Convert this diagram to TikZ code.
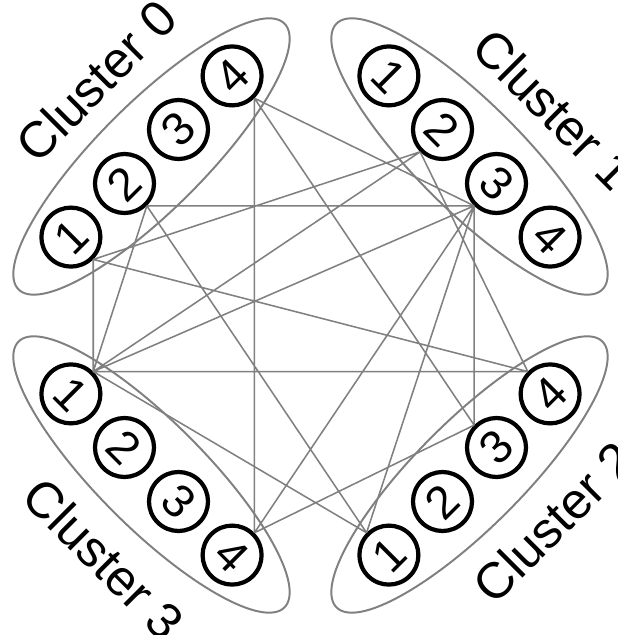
\documentclass[tikz,border=0pt]{standalone}
\usepackage{fontspec}
\setmainfont{Liberation Sans}
\usepackage{tikz}

\begin{document}
\begin{tikzpicture}[
    member/.style={circle, draw, line width=3pt, minimum size=1.475cm, inner sep=0pt, font=\fontsize{33}{40}\selectfont},
    group/.style={draw=gray, line width=1.4pt},
    link/.style={draw=gray, line width=1.1pt},
    title/.style={font=\fontsize{36}{43}\selectfont}]
    \useasboundingbox (-7.7625,-7.9875) rectangle (7.6875,7.8875);

    % cluster outlines
    \draw[group, rotate around={45:(-3.975,3.975)}] (-3.975,3.975) ellipse (4.7 and 1.33);
    \draw[group, rotate around={-45:(3.975,3.975)}] (3.975,3.975) ellipse (4.7 and 1.33);
    \draw[group, rotate around={45:(3.975,-3.975)}] (3.975,-3.975) ellipse (4.7 and 1.33);
    \draw[group, rotate around={-45:(-3.975,-3.975)}] (-3.975,-3.975) ellipse (4.7 and 1.33);

    % cluster 0
    \node[member, rotate=45] (a1) at (-5.99,1.96) {1};
    \node[member, rotate=45] (a2) at (-4.65,3.30) {2};
    \node[member, rotate=45] (a3) at (-3.30,4.65) {3};
    \node[member, rotate=45] (a4) at (-1.96,5.99) {4};
    % cluster 1
    \node[member, rotate=-45] (b1) at (1.96,5.99) {1};
    \node[member, rotate=-45] (b2) at (3.30,4.65) {2};
    \node[member, rotate=-45] (b3) at (4.65,3.30) {3};
    \node[member, rotate=-45] (b4) at (5.99,1.96) {4};
    % cluster 2
    \node[member, rotate=45] (c1) at (1.96,-5.99) {1};
    \node[member, rotate=45] (c2) at (3.30,-4.65) {2};
    \node[member, rotate=45] (c3) at (4.65,-3.30) {3};
    \node[member, rotate=45] (c4) at (5.99,-1.96) {4};
    % cluster 3
    \node[member, rotate=-45] (d1) at (-5.99,-1.96) {1};
    \node[member, rotate=-45] (d2) at (-4.65,-3.30) {2};
    \node[member, rotate=-45] (d3) at (-3.30,-4.65) {3};
    \node[member, rotate=-45] (d4) at (-1.96,-5.99) {4};

    \node[title, rotate=45] (t0) at (-5.36,5.87) {Cluster 0};
    \node[title, rotate=-45] (t1) at (6.08,5.16) {Cluster 1};
    \node[title, rotate=45] (t2) at (6.08,-5.16) {Cluster 2};
    \node[title, rotate=-45] (t3) at (-5.16,-6.08) {Cluster 3};

    % links between clusters
    \draw[link] (a1.south) -- (b2.south)
                (a1.south) -- (c4.north)
                (a1.south) -- (d1.north)
                (a2.south) -- (b3.south)
                (a2.south) -- (c1.north)
                (a2.south) -- (d1.north)
                (a4.south) -- (b3.south)
                (a4.south) -- (c3.north)
                (a4.south) -- (d4.north)
                (b2.south) -- (c4.north)
                (b2.south) -- (d1.north)
                (b3.south) -- (c1.north)
                (b3.south) -- (c3.north)
                (b3.south) -- (d1.north)
                (b3.south) -- (d4.north)
                (c1.north) -- (d1.north)
                (c3.north) -- (d4.north)
                (c4.north) -- (d1.north);
\end{tikzpicture}
\end{document}
